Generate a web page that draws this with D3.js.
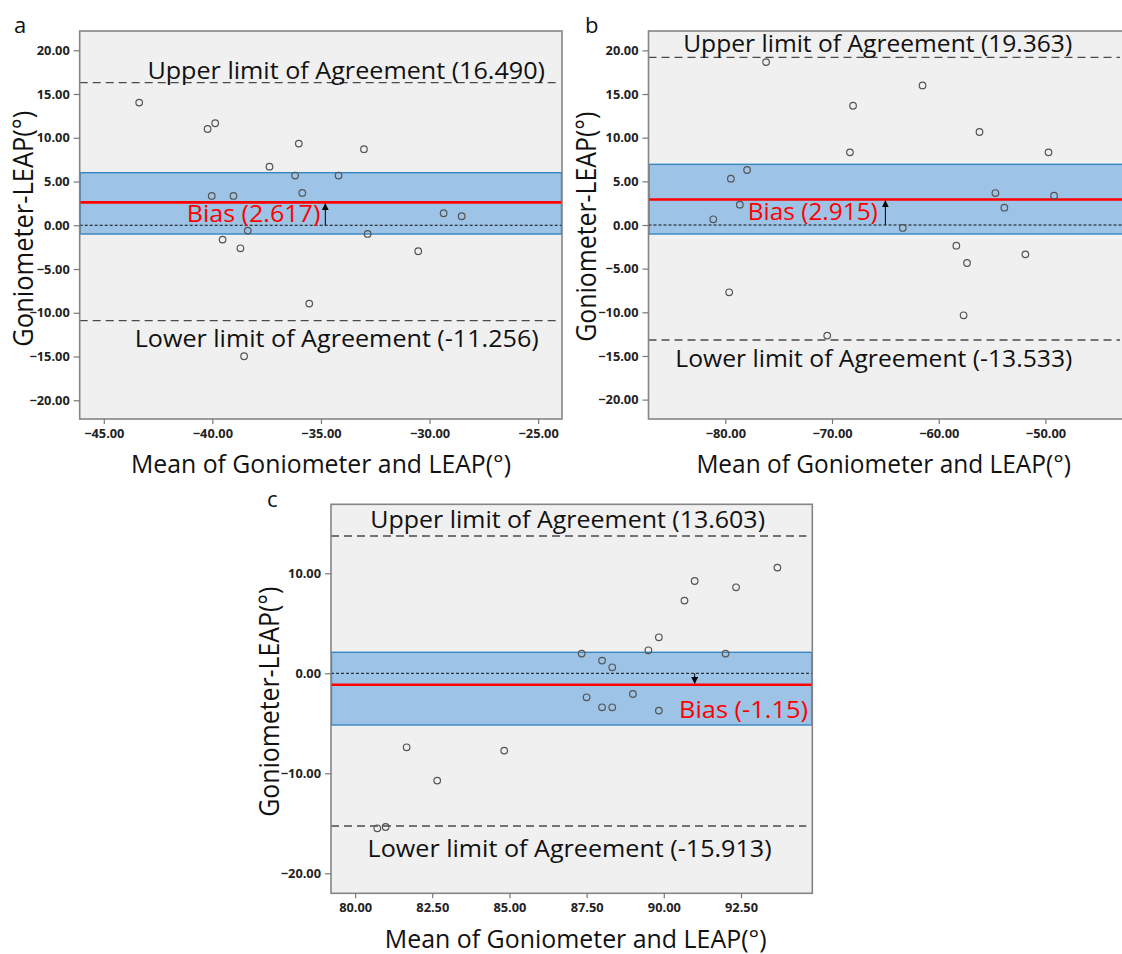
<!DOCTYPE html>
<html><head><meta charset="utf-8">
<script src="https://cdn.jsdelivr.net/npm/d3@7"></script>
<style>body{margin:0;background:#fff} svg{display:block}</style>
</head><body>
<svg id="chart" width="1122" height="954"></svg>
<script>
// ---------------- DATA ----------------
const panelLetters = ["a", "b", "c"];

const meanA = [-43.37,-40.22,-39.87,-36.02,-33.02,-37.37,-36.19,-34.19,-40.03,-39.03,-35.86,-29.35,-28.52,-38.37,-32.85,-39.53,-38.71,-30.52,-35.54,-38.54];
const diffA = [14.02,11.0,11.66,9.33,8.69,6.70,5.68,5.68,3.35,3.35,3.70,1.37,1.03,-0.61,-0.99,-1.64,-2.63,-2.97,-8.95,-14.97];

const meanB = [-76.18,-61.52,-68.03,-56.18,-68.32,-49.71,-77.96,-79.48,-54.69,-49.19,-78.64,-53.85,-81.13,-63.37,-58.35,-51.88,-57.35,-79.64,-57.67,-70.45];
const diffB = [18.66,15.99,13.66,10.65,8.32,8.32,6.30,5.31,3.66,3.36,2.33,1.98,0.65,-0.34,-2.37,-3.36,-4.35,-7.71,-10.34,-12.67];

const meanC = [93.68,91.0,92.34,90.67,89.84,89.5,87.34,92.0,88.0,88.33,89.0,87.5,88.0,88.33,89.84,81.67,84.83,82.66,80.72,80.99];
const diffC = [10.57,9.23,8.6,7.27,3.6,2.3,1.97,1.97,1.27,0.6,-2.07,-2.4,-3.4,-3.4,-3.73,-7.4,-7.73,-10.73,-15.5,-15.37];

const xTicksA = [-45, -40, -35, -30, -25];
const xTicksB = [-80, -70, -60, -50];
const xTicksC = [80, 82.5, 85, 87.5, 90, 92.5];
const yTicksA = [-20, -15, -10, -5, 0, 5, 10, 15, 20];
const yTicksB = [-20, -15, -10, -5, 0, 5, 10, 15, 20];
const yTicksC = [-20, -10, 0, 10];

const biasValues = [2.617, 2.915, -1.15];
const biasBandLow = [-1.0, -1.03, -5.17];
const biasBandHigh = [6.01, 6.95, 2.1];
const upperLoA = [16.3, 19.2, 13.73];
const lowerLoA = [-10.9, -13.17, -15.27];
const arrowAt = [-34.8, -65.0, 91.0];

const upperLabels = ["Upper limit of Agreement (16.490)", "Upper limit of Agreement (19.363)", "Upper limit of Agreement (13.603)"];
const lowerLabels = ["Lower limit of Agreement (-11.256)", "Lower limit of Agreement (-13.533)", "Lower limit of Agreement (-15.913)"];
const biasLabels = ["Bias (2.617)", "Bias (2.915)", "Bias (-1.15)"];
const xTitle = "Mean of Goniometer and LEAP(°)";
const yTitle = "Goniometer-LEAP(°)";

// -------------- LAYOUT (positions/styles) --------------
const layout = [
  {frame:[79.7,31,562,419], xDom:[-46.11,-23.9], yDom:[-22.14,22.2], letter:[14,33],
   yT:{base:33, start:346.7, len:236}, xT:{x0:131, len:380, base:473.3},
   up:{x0:147.4, len:397.6, base:79}, lo:{x0:134.7, len:404, base:346.7}, bi:{x0:186.7, len:133.6, base:221.7}},
  {frame:[648.5,31,1126,419], xDom:[-87.2,-42.45], yDom:[-22.22,22.22], letter:[585,33],
   yT:{base:596, start:341.7, len:230}, xT:{x0:696.4, len:374.5, base:473},
   up:{x0:683.2, len:389, base:51.7}, lo:{x0:675.3, len:397, base:366.7}, bi:{x0:747.8, len:130, base:220}},
  {frame:[331,504.3,812.3,893.3], xDom:[79.22,94.81], yDom:[-22,16.9], letter:[267,506.7],
   yT:{base:278.6, start:816.7, len:230}, xT:{x0:384.8, len:381.7, base:948.3},
   up:{x0:370.3, len:394.7, base:528.3}, lo:{x0:367.6, len:404, base:856.7}, bi:{x0:679, len:129, base:718.3}}
];

const means = [meanA, meanB, meanC];
const diffs = [diffA, diffB, diffC];
const xTicks = [xTicksA, xTicksB, xTicksC];
const yTicks = [yTicksA, yTicksB, yTicksC];

const FONT = "'Open Sans', 'Noto Sans', sans-serif";
const svg = d3.select("#chart");

const defs = svg.append("defs");
defs.append("marker").attr("id", "arrowhead")
  .attr("viewBox", "0 0 10 10").attr("refX", 9).attr("refY", 5)
  .attr("markerWidth", 7).attr("markerHeight", 7).attr("markerUnits", "userSpaceOnUse")
  .attr("orient", "auto-start-reverse")
  .append("path").attr("d", "M0,0 L10,5 L0,10 z").attr("fill", "#000");

layout.forEach((L, i) => {
  const [fx0, fy0, fx1, fy1] = L.frame;
  const x = d3.scaleLinear().domain(L.xDom).range([fx0, fx1]);
  const y = d3.scaleLinear().domain(L.yDom).range([fy1, fy0]);
  const g = svg.append("g");

  defs.append("clipPath").attr("id", "clip" + i)
    .append("rect").attr("x", fx0).attr("y", fy0).attr("width", fx1 - fx0).attr("height", fy1 - fy0);

  g.append("rect").attr("x", fx0).attr("y", fy0).attr("width", fx1 - fx0).attr("height", fy1 - fy0)
    .attr("fill", "#f0f0f0");

  const p = g.append("g").attr("clip-path", `url(#clip${i})`);

  p.append("rect")
    .attr("x", fx0 + 0.5).attr("width", fx1 - fx0 - 1)
    .attr("y", y(biasBandHigh[i])).attr("height", y(biasBandLow[i]) - y(biasBandHigh[i]))
    .attr("fill", "#9dc3e6").attr("stroke", "#3587c0").attr("stroke-width", 1.4);

  p.append("line").attr("x1", fx0).attr("x2", fx1).attr("y1", y(0)).attr("y2", y(0))
    .attr("stroke", "#111").attr("stroke-width", 1).attr("stroke-dasharray", "3,2");

  [upperLoA[i], lowerLoA[i]].forEach(v => {
    p.append("line").attr("x1", fx0).attr("x2", fx1 - 6).attr("y1", y(v)).attr("y2", y(v))
      .attr("stroke", "#4a4a4a").attr("stroke-width", 1.4).attr("stroke-dasharray", "8,5");
  });

  p.append("line").attr("x1", fx0).attr("x2", fx1).attr("y1", y(biasValues[i])).attr("y2", y(biasValues[i]))
    .attr("stroke", "#ff0000").attr("stroke-width", 2.6);

  p.append("line").attr("x1", x(arrowAt[i])).attr("x2", x(arrowAt[i]))
    .attr("y1", y(0)).attr("y2", y(biasValues[i]) + (biasValues[i] > 0 ? 1.5 : -1.5))
    .attr("stroke", "#000").attr("stroke-width", 1).attr("marker-end", "url(#arrowhead)");

  p.selectAll("circle.pt").data(means[i].map((m, k) => [m, diffs[i][k]]))
    .join("circle").attr("class", "pt")
    .attr("cx", d => x(d[0])).attr("cy", d => y(d[1])).attr("r", 3.3)
    .attr("fill", "none").attr("stroke", "#555").attr("stroke-width", 1.2);

  const txt = (cfg, s, color) => g.append("text")
    .attr("x", cfg.x0).attr("y", cfg.base)
    .attr("textLength", cfg.len).attr("lengthAdjust", "spacingAndGlyphs")
    .attr("font-family", FONT).attr("font-size", 24).attr("fill", color).text(s);
  txt(L.up, upperLabels[i], "#111");
  txt(L.lo, lowerLabels[i], "#111");
  txt(L.bi, biasLabels[i], "#ff0000");

  g.append("rect").attr("x", fx0).attr("y", fy0).attr("width", fx1 - fx0).attr("height", fy1 - fy0)
    .attr("fill", "none").attr("stroke", "#858585").attr("stroke-width", 1.6);

  const fmt = d3.format(".2f");
  const ya = g.append("g").attr("transform", `translate(${fx0},0)`)
    .call(d3.axisLeft(y).tickValues(yTicks[i]).tickFormat(fmt).tickSize(6).tickPadding(4));
  const xa = g.append("g").attr("transform", `translate(0,${fy1})`)
    .call(d3.axisBottom(x).tickValues(xTicks[i]).tickFormat(fmt).tickSize(5).tickPadding(5));
  [ya, xa].forEach(a => {
    a.select(".domain").remove();
    a.selectAll(".tick line").attr("stroke", "#777").attr("stroke-width", 1.2);
    a.selectAll(".tick text").attr("font-family", FONT).attr("font-weight", 700)
      .attr("font-size", 12.8).attr("fill", "#222");
  });

  g.append("text").attr("x", L.xT.x0).attr("y", L.xT.base)
    .attr("textLength", L.xT.len).attr("lengthAdjust", "spacingAndGlyphs")
    .attr("font-family", FONT).attr("font-size", 25).attr("fill", "#111").text(xTitle);
  g.append("text").attr("transform", `translate(${L.yT.base},${L.yT.start}) rotate(-90)`)
    .attr("textLength", L.yT.len).attr("lengthAdjust", "spacingAndGlyphs")
    .attr("font-family", FONT).attr("font-size", 27).attr("fill", "#111").text(yTitle);

  g.append("text").attr("x", L.letter[0]).attr("y", L.letter[1])
    .attr("font-family", FONT).attr("font-size", 22).attr("fill", "#111").text(panelLetters[i]);
});
</script>
</body></html>
